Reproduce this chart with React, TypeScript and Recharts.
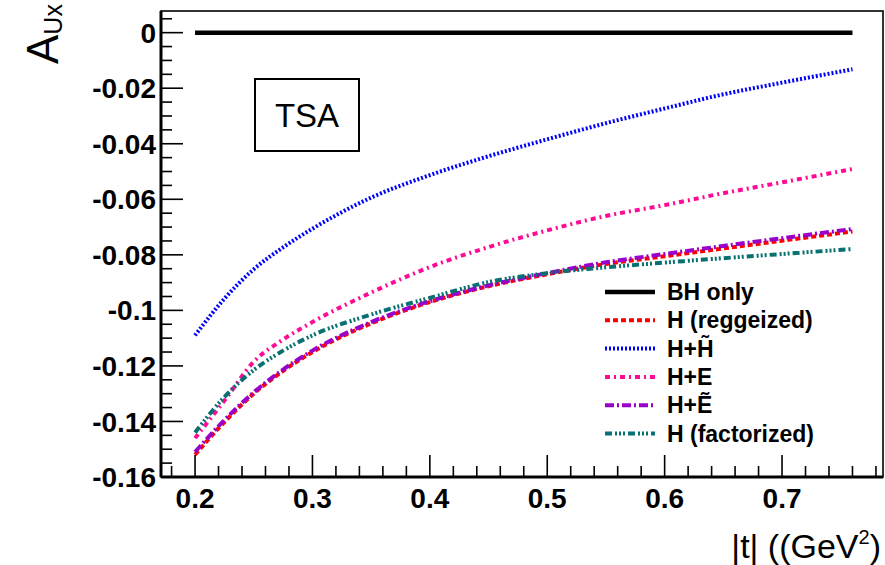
import React from "react";
import { LineChart, Line, XAxis, YAxis, Legend } from "recharts";

const tValues = [0.2, 0.225, 0.25, 0.275, 0.3, 0.35, 0.4, 0.45, 0.5, 0.55, 0.6, 0.65, 0.7, 0.76];
const bhOnly = [0, 0, 0, 0, 0, 0, 0, 0, 0, 0, 0, 0, 0, 0];
const hReggeized = [-0.152, -0.1402, -0.13, -0.1218, -0.115, -0.1047, -0.097, -0.0913, -0.087, -0.0833, -0.0805, -0.0777, -0.0749, -0.0716];
const hHtilde = [-0.109, -0.0958, -0.0852, -0.0773, -0.0706, -0.0594, -0.0513, -0.0445, -0.0384, -0.0326, -0.0273, -0.0222, -0.018, -0.0132];
const hE = [-0.146, -0.1325, -0.1185, -0.1105, -0.1042, -0.0936, -0.0844, -0.0772, -0.0712, -0.066, -0.0621, -0.0578, -0.0539, -0.0491];
const hEtilde = [-0.151, -0.1395, -0.1295, -0.1213, -0.1145, -0.1042, -0.0967, -0.091, -0.0866, -0.0827, -0.0797, -0.0768, -0.074, -0.0707];
const hFactorized = [-0.144, -0.1312, -0.1215, -0.1145, -0.109, -0.1015, -0.0955, -0.0898, -0.0866, -0.0845, -0.0828, -0.0812, -0.0797, -0.0779];

const seriesNames = ["BH only", "H (reggeized)", "H+H\u0303", "H+E", "H+\u1EBC", "H (factorized)"];

const xMajorTicks = [0.2, 0.3, 0.4, 0.5, 0.6, 0.7];
const xTicks = [0.18, 0.2, 0.22, 0.24, 0.26, 0.28, 0.3, 0.32, 0.34, 0.36, 0.38, 0.4, 0.42, 0.44, 0.46, 0.48, 0.5, 0.52, 0.54, 0.56, 0.58, 0.6, 0.62, 0.64, 0.66, 0.68, 0.7, 0.72, 0.74, 0.76, 0.78];
const yMajorTicks = [0, -0.02, -0.04, -0.06, -0.08, -0.1, -0.12, -0.14, -0.16];
const yTicks = [0.005, 0, -0.005, -0.01, -0.015, -0.02, -0.025, -0.03, -0.035, -0.04, -0.045, -0.05, -0.055, -0.06, -0.065, -0.07, -0.075, -0.08, -0.085, -0.09, -0.095, -0.1, -0.105, -0.11, -0.115, -0.12, -0.125, -0.13, -0.135, -0.14, -0.145, -0.15, -0.155, -0.16];

const seriesValues = [bhOnly, hReggeized, hHtilde, hE, hEtilde, hFactorized];
const seriesKeys = ["bh", "reg", "ht", "he", "het", "fac"];

const styles = [
  { color: "#000000", dash: undefined as string | undefined, width: 4.5 },
  { color: "#ff0000", dash: "5 3", width: 4 },
  { color: "#0000ff", dash: "2 2", width: 4 },
  { color: "#ff0a96", dash: "5 4 2 4", width: 4 },
  { color: "#9a00cc", dash: "9 3 2 3", width: 4 },
  { color: "#087070", dash: "7 3 2 2 2 2 2 3", width: 4 },
];

const data = tValues.map((t, i) => {
  const row: Record<string, number> = { t };
  seriesKeys.forEach((k, j) => {
    row[k] = seriesValues[j][i];
  });
  return row;
});

const FONT = "'Liberation Sans', Arial, Helvetica, sans-serif";

const isIn = (arr: number[], v: number) => arr.some((m) => Math.abs(m - v) < 1e-6);
const fmt = (v: number) => String(Math.round(v * 1000) / 1000);

const YTick = (props: any) => {
  const { x, y, payload } = props;
  const v = payload.value;
  const major = isIn(yMajorTicks, v);
  return (
    <g>
      <line x1={x} y1={y} x2={x + (major ? 22 : 11)} y2={y} stroke="#000" strokeWidth={1.6} />
      {major && (
        <text x={x - 5} y={y} dy="0.36em" textAnchor="end" fontFamily={FONT} fontWeight={700} fontSize={28} fill="#000">
          {fmt(v)}
        </text>
      )}
    </g>
  );
};

const XTick = (props: any) => {
  const { x, y, payload } = props;
  const v = payload.value;
  const major = isIn(xMajorTicks, v);
  return (
    <g>
      <line x1={x} y1={y} x2={x} y2={y - (major ? 22 : 11)} stroke="#000" strokeWidth={1.6} />
      {major && (
        <text x={x} y={y + 31} textAnchor="middle" fontFamily={FONT} fontWeight={700} fontSize={28} fill="#000">
          {fmt(v)}
        </text>
      )}
    </g>
  );
};

const renderLegend = () => (
  <svg width={240} height={175} style={{ display: "block" }}>
    {seriesNames.map((name, i) => {
      const cy = 14 + i * 28.3;
      const s = styles[i];
      return (
        <g key={name}>
          <line x1={5} x2={55} y1={cy} y2={cy} stroke={s.color} strokeWidth={s.width} strokeDasharray={s.dash} />
          <text x={67} y={cy + 8} fontFamily={FONT} fontWeight={700} fontSize={23} fill="#000">
            {name}
          </text>
        </g>
      );
    })}
  </svg>
);

export default function App() {
  return (
    <div style={{ position: "absolute", left: 0, top: 0, width: 885, height: 565, background: "#fff" }}>
      <LineChart
        width={885}
        height={565}
        data={data}
        margin={{ top: 11, right: 2, bottom: 0, left: 0 }}
      >
        <XAxis
          dataKey="t"
          type="number"
          domain={[0.171, 0.786]}
          ticks={xTicks}
          interval={0}
          allowDataOverflow
          height={88}
          tickSize={0}
          tickMargin={0}
          tickLine={false}
          axisLine={{ stroke: "#000", strokeWidth: 3 }}
          tick={<XTick />}
        />
        <YAxis
          type="number"
          domain={[-0.16, 0.0078]}
          ticks={yTicks}
          interval={0}
          allowDataOverflow
          width={161}
          tickSize={0}
          tickMargin={0}
          tickLine={false}
          axisLine={{ stroke: "#000", strokeWidth: 3 }}
          tick={<YTick />}
        />
        <Legend
          layout="vertical"
          align="center"
          verticalAlign="middle"
          content={renderLegend}
          wrapperStyle={{ position: "absolute", left: 600, top: 278, width: 240, height: 175 }}
        />
        {seriesKeys.map((k, i) => (
          <Line
            key={k}
            dataKey={k}
            name={seriesNames[i]}
            type="monotone"
            stroke={styles[i].color}
            strokeWidth={styles[i].width}
            strokeDasharray={styles[i].dash}
            dot={false}
            activeDot={false}
            isAnimationActive={false}
          />
        ))}
      </LineChart>
      <svg
        width={885}
        height={565}
        style={{ position: "absolute", left: 0, top: 0, pointerEvents: "none" }}
      >
        <rect x={161} y={11} width={722} height={466} fill="none" stroke="#000" strokeWidth={1.6} />
        <rect x={255} y={79} width={104} height={72} fill="#fff" stroke="#000" strokeWidth={2} />
        <text x={307} y={127} textAnchor="middle" fontFamily={FONT} fontSize={33} fill="#000">
          TSA
        </text>
        <text x={881} y={558} textAnchor="end" fontFamily={FONT} fontSize={34} fill="#000">
          |t| ((GeV<tspan fontSize={20} dy={-14}>2</tspan><tspan dy={14}>)</tspan>
        </text>
        <text transform="translate(58,64) rotate(-90)" fontFamily={FONT} fontSize={44} fill="#000">
          A<tspan fontSize={25} dy={4}>Ux</tspan>
        </text>
      </svg>
    </div>
  );
}
